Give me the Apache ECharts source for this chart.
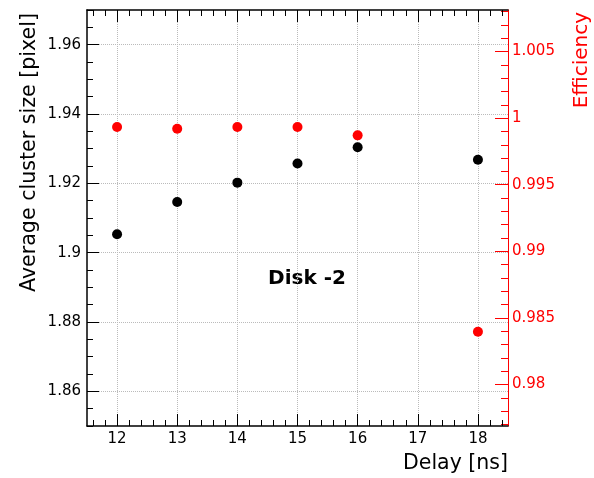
<!DOCTYPE html>
<html>
<head>
<meta charset="utf-8">
<script src="https://cdn.jsdelivr.net/npm/echarts@6/dist/echarts.min.js"></script>
<style>
  html, body { margin: 0; padding: 0; background: #fff; }
  #chart { width: 594px; height: 478px; }
</style>
</head>
<body>
<div id="chart"></div>
<script>
// data
const delays = [12, 13, 14, 15, 16, 18];
const clusterSize = [1.9053, 1.9146, 1.9202, 1.9257, 1.9304, 1.9268];
const efficiency = [0.99934, 0.99921, 0.99934, 0.99934, 0.99871, 0.98396];

// tick labels
const xTicks = [12, 13, 14, 15, 16, 17, 18];
const leftTicks = [1.86, 1.88, 1.9, 1.92, 1.94, 1.96];
const rightTicks = [0.98, 0.985, 0.99, 0.995, 1, 1.005];

// axis ranges
const xRange = [11.5, 18.5];
const leftRange = [1.85, 1.97];
const rightRange = [0.97688, 1.008125];

const FONT = 'DejaVu Sans';
const RED = '#ff0000';

// minor tick positions
function steps(from, to, step) {
  const out = [];
  const n = Math.round((to - from) / step);
  for (let i = 0; i <= n; i++) out.push(+(from + i * step).toFixed(6));
  return out;
}
const xMinor = steps(11.6, 18.4, 0.2);
const leftMinor = steps(1.85, 1.97, 0.005);
const rightMinor = steps(0.977, 1.008, 0.001);

function tickAxis(base, values, len, color, lineShow) {
  return Object.assign({
    type: 'value',
    gridIndex: 0,
    axisLine: lineShow ? { show: true, onZero: false, lineStyle: { color: color, width: 1.5 } } : { show: false },
    axisTick: { show: true, inside: true, length: len, customValues: values, lineStyle: { color: color, width: 1 } },
    axisLabel: { show: false },
    splitLine: { show: false }
  }, base);
}

const chart = echarts.init(document.getElementById('chart'));

chart.setOption({
  animation: false,
  backgroundColor: '#fff',
  grid: { left: 87, top: 10, right: 86, bottom: 52, show: false },
  xAxis: [
    {
      type: 'value', position: 'bottom', min: xRange[0], max: xRange[1],
      axisLine: { show: true, onZero: false, lineStyle: { color: '#000', width: 1.5 } },
      axisTick: { show: true, inside: true, length: 12, customValues: xTicks, lineStyle: { color: '#000' } },
      axisLabel: { customValues: xTicks, color: '#000', fontFamily: FONT, fontSize: 15, margin: 6 },
      splitLine: { show: true, lineStyle: { color: '#bbb', type: 'dotted', width: 1 } }
    },
    tickAxis({ position: 'bottom', min: xRange[0], max: xRange[1] }, xMinor, 6, '#000', false),
    tickAxis({ position: 'top', min: xRange[0], max: xRange[1] }, xTicks, 12, '#000', true),
    tickAxis({ position: 'top', min: xRange[0], max: xRange[1] }, xMinor, 6, '#000', false)
  ],
  yAxis: [
    {
      type: 'value', position: 'left', min: leftRange[0], max: leftRange[1],
      axisLine: { show: true, onZero: false, lineStyle: { color: '#000', width: 1.5 } },
      axisTick: { show: true, inside: true, length: 12, customValues: leftTicks, lineStyle: { color: '#000' } },
      axisLabel: { customValues: leftTicks, color: '#000', fontFamily: FONT, fontSize: 15, margin: 6 },
      splitLine: { show: true, lineStyle: { color: '#bbb', type: 'dotted', width: 1 } }
    },
    {
      type: 'value', position: 'right', min: rightRange[0], max: rightRange[1],
      axisLine: { show: true, onZero: false, lineStyle: { color: RED, width: 1 } },
      axisTick: { show: true, inside: true, length: 13, customValues: rightTicks, lineStyle: { color: RED } },
      axisLabel: { customValues: rightTicks, color: RED, fontFamily: FONT, fontSize: 15, margin: 4 },
      splitLine: { show: false }
    },
    tickAxis({ position: 'left', min: leftRange[0], max: leftRange[1] }, leftMinor, 6, '#000', false),
    tickAxis({ position: 'right', min: rightRange[0], max: rightRange[1] }, rightMinor, 7, RED, false)
  ],
  series: [
    {
      name: 'Average cluster size',
      type: 'scatter',
      xAxisIndex: 0, yAxisIndex: 0,
      symbolSize: 10,
      itemStyle: { color: '#000', opacity: 1 },
      data: delays.map((d, i) => [d, clusterSize[i]])
    },
    {
      name: 'Efficiency',
      type: 'scatter',
      xAxisIndex: 0, yAxisIndex: 1,
      symbolSize: 10,
      itemStyle: { color: RED, opacity: 1 },
      data: delays.map((d, i) => [d, efficiency[i]])
    }
  ],
  graphic: [
    {
      type: 'text', x: 30, y: 13, rotation: Math.PI / 2,
      style: { text: 'Average cluster size [pixel]', fontFamily: FONT, fontSize: 20.6, fill: '#000', align: 'right', verticalAlign: 'middle' }
    },
    {
      type: 'text', x: 582, y: 12, rotation: Math.PI / 2,
      style: { text: 'Efficiency', fontFamily: FONT, fontSize: 20, fill: RED, align: 'right', verticalAlign: 'middle' }
    },
    {
      type: 'text', x: 508, y: 464,
      style: { text: 'Delay [ns]', fontFamily: FONT, fontSize: 20.5, fill: '#000', align: 'right', verticalAlign: 'middle' }
    },
    {
      type: 'text', x: 307, y: 279,
      style: { text: 'Disk -2', fontFamily: FONT, fontSize: 20, fontWeight: 'bold', fill: '#000', align: 'center', verticalAlign: 'middle' }
    }
  ]
});
</script>
</body>
</html>
